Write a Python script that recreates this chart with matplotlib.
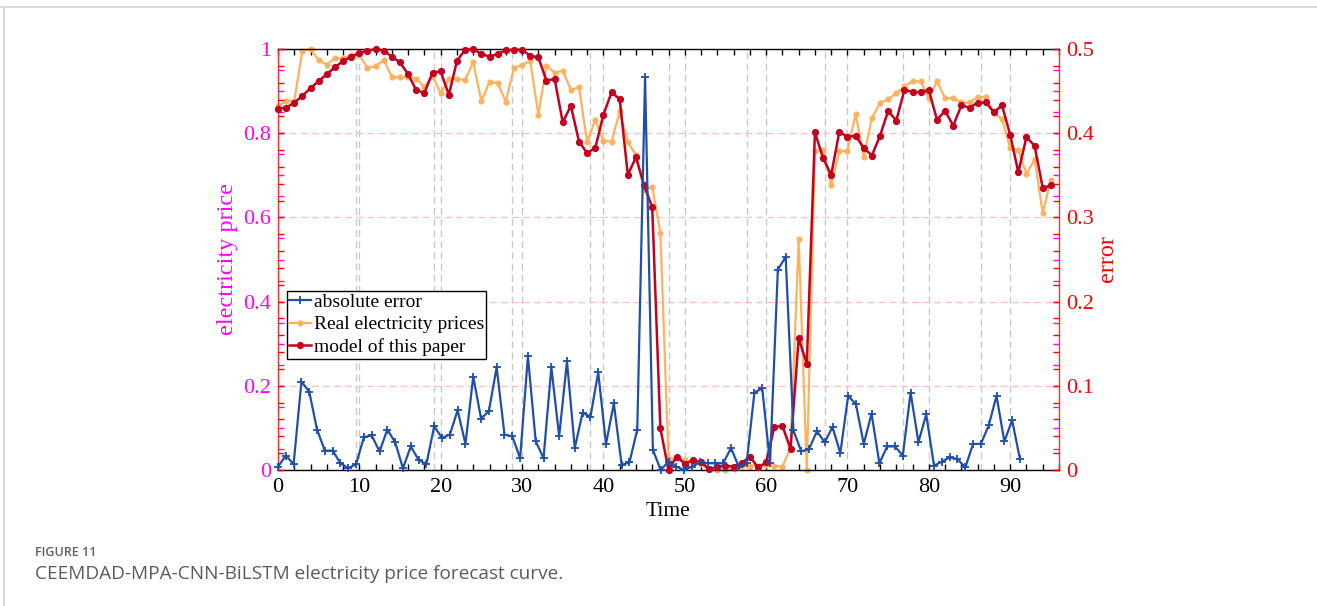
import numpy as np
import matplotlib
matplotlib.use("Agg")
import matplotlib.pyplot as plt
from matplotlib.ticker import MultipleLocator, FixedLocator, FixedFormatter
from matplotlib.lines import Line2D

# ---- data -------------------------------------------------------------
time_idx = np.arange(96)

real_price = [
    0.864, 0.877, 0.877, 0.996, 1.000, 0.973, 0.963, 0.978, 0.978, 0.985,
    0.985, 0.956, 0.959, 0.974, 0.933, 0.933, 0.933, 0.929, 0.910, 0.936,
    0.895, 0.929, 0.929, 0.927, 0.968, 0.876, 0.922, 0.919, 0.875, 0.955,
    0.962, 0.972, 0.844, 0.960, 0.944, 0.948, 0.903, 0.909, 0.779, 0.832,
    0.782, 0.780, 0.852, 0.778, 0.749, 0.666, 0.672, 0.564, 0.026, 0.028,
    0.023, 0.016, 0.014, 0.002, 0.000, 0.000, 0.002, 0.010, 0.010, 0.010,
    0.012, 0.010, 0.008, 0.052, 0.548, 0.000, 0.757, 0.761, 0.676, 0.758,
    0.758, 0.846, 0.743, 0.836, 0.872, 0.881, 0.895, 0.911, 0.923, 0.923,
    0.883, 0.923, 0.883, 0.883, 0.873, 0.873, 0.886, 0.886, 0.848, 0.834,
    0.765, 0.761, 0.703, 0.738, 0.610, 0.689,
]

model_price = [
    0.858, 0.861, 0.872, 0.889, 0.907, 0.924, 0.940, 0.957, 0.971, 0.982,
    0.990, 0.996, 1.000, 0.996, 0.982, 0.968, 0.940, 0.902, 0.896, 0.944,
    0.947, 0.891, 0.972, 0.998, 1.000, 0.988, 0.982, 0.988, 0.997, 0.998,
    0.998, 0.984, 0.980, 0.925, 0.929, 0.826, 0.865, 0.780, 0.753, 0.765,
    0.844, 0.897, 0.881, 0.701, 0.743, 0.676, 0.624, 0.099, 0.000, 0.032,
    0.015, 0.023, 0.019, 0.002, 0.008, 0.010, 0.008, 0.016, 0.032, 0.006,
    0.018, 0.102, 0.105, 0.050, 0.313, 0.252, 0.802, 0.741, 0.701, 0.804,
    0.791, 0.794, 0.765, 0.747, 0.794, 0.853, 0.830, 0.903, 0.898, 0.898,
    0.902, 0.832, 0.853, 0.818, 0.866, 0.861, 0.872, 0.873, 0.850, 0.866,
    0.796, 0.707, 0.791, 0.770, 0.670, 0.676,
]

abs_error = [
    0.004, 0.017, 0.007, 0.105, 0.093, 0.048, 0.023, 0.023, 0.008, 0.002,
    0.007, 0.039, 0.041, 0.022, 0.048, 0.033, 0.002, 0.028, 0.012, 0.007,
    0.052, 0.038, 0.042, 0.071, 0.031, 0.111, 0.061, 0.070, 0.122, 0.042,
    0.040, 0.014, 0.135, 0.034, 0.014, 0.122, 0.040, 0.129, 0.026, 0.068,
    0.063, 0.116, 0.031, 0.079, 0.006, 0.009, 0.048, 0.467, 0.024, 0.000,
    0.010, 0.004, 0.000, 0.004, 0.009, 0.008, 0.008, 0.008, 0.026, 0.004,
    0.008, 0.092, 0.097, 0.008, 0.238, 0.253, 0.047, 0.022, 0.025, 0.046,
    0.033, 0.051, 0.020, 0.088, 0.078, 0.031, 0.067, 0.008, 0.028, 0.028,
    0.017, 0.092, 0.033, 0.066, 0.005, 0.010, 0.015, 0.013, 0.003, 0.031,
    0.031, 0.053, 0.088, 0.034, 0.059, 0.013,
]

x_ticks = [0, 10, 20, 30, 40, 50, 60, 70, 80, 90]
price_ticks = [0, 0.2, 0.4, 0.6, 0.8, 1.0]
price_tick_labels = ["0", "0.2", "0.4", "0.6", "0.8", "1"]
error_ticks = [0, 0.1, 0.2, 0.3, 0.4, 0.5]
error_tick_labels = ["0", "0.1", "0.2", "0.3", "0.4", "0.5"]

series_labels = ["absolute error", "Real electricity prices", "model of this paper"]

# ---- style ------------------------------------------------------------
BLUE = "#1f4fa8"
ORANGE = "#ffb15e"
DARKRED = "#c4001e"
MAGENTA = "#ff00ff"
RED = "#ff0000"
SPINE_RED = "#ff3030"
GRID_GRAY = "#c9c9c9"
GRID_PINK = "#ffc0cc"
SERIF = "Liberation Serif"

plt.rcParams["font.family"] = SERIF

W, H = 1317, 606
fig = plt.figure(figsize=(W / 100, H / 100), dpi=100)
fig.patch.set_facecolor("white")

left_px, right_px, top_px, bottom_px = 278, 1059, 49, 470
rect = [left_px / W, 1 - bottom_px / H, (right_px - left_px) / W, (bottom_px - top_px) / H]

# background axes carrying the time grid of the error series (0..100 scale)
ax_bg = fig.add_axes(rect)
ax_bg.set_xlim(0, 100)
ax_bg.set_ylim(0, 1)
ax_bg.xaxis.set_major_locator(MultipleLocator(10))
ax_bg.set_yticks([])
ax_bg.tick_params(axis="x", which="both", bottom=False, top=False, labelbottom=False)
ax_bg.grid(axis="x", color=GRID_GRAY, linestyle=(0, (5, 3)), linewidth=1.0)
for s in ax_bg.spines.values():
    s.set_visible(False)

# main price axes
ax = fig.add_axes(rect)
ax.patch.set_visible(False)
ax.set_axisbelow(True)
ax.plot(time_idx, real_price, color=ORANGE, lw=1.6, marker="o", ms=3.4,
        zorder=2, clip_on=False, label=series_labels[1])
ax.plot(time_idx, model_price, color=DARKRED, lw=1.8, marker="o", ms=4.2,
        zorder=3, clip_on=False, label=series_labels[2])
ax.set_xlim(0, 96)
ax.set_ylim(0, 1)
ax.xaxis.set_major_locator(FixedLocator(x_ticks))
ax.xaxis.set_minor_locator(MultipleLocator(2))
ax.yaxis.set_major_locator(FixedLocator(price_ticks))
ax.yaxis.set_major_formatter(FixedFormatter(price_tick_labels))
ax.yaxis.set_minor_locator(MultipleLocator(0.05))
ax.grid(axis="x", which="major", color=GRID_GRAY, linestyle=(0, (5, 3)), linewidth=1.0)
ax.grid(axis="y", which="major", color=GRID_PINK, linestyle=(0, (5, 3)), linewidth=1.0)
ax.tick_params(axis="x", which="both", direction="in", top=True, bottom=True,
               length=4, width=1, color="black", labelsize=16, labelcolor="black", pad=6)
ax.tick_params(axis="y", which="both", direction="in", left=True, right=True,
               length=4, width=1, color=MAGENTA, labelsize=16, labelcolor=MAGENTA, pad=5)
ax.spines["left"].set_color(SPINE_RED)
ax.spines["right"].set_color(SPINE_RED)
ax.spines["top"].set_color("black")
ax.spines["bottom"].set_color("black")
for s in ax.spines.values():
    s.set_linewidth(1.0)

# error axes
axe = fig.add_axes(rect)
axe.patch.set_visible(False)
axe.plot(time_idx, abs_error, color=BLUE, lw=1.6, marker="+", ms=5.5, mew=1.3,
         zorder=4, clip_on=False, label=series_labels[0])
axe.set_xlim(0, 100)
axe.set_ylim(0, 0.5)
axe.set_xticks([])
axe.yaxis.set_major_locator(FixedLocator(error_ticks))
axe.yaxis.set_major_formatter(FixedFormatter(error_tick_labels))
axe.yaxis.set_minor_locator(MultipleLocator(0.02))
axe.tick_params(axis="y", which="both", direction="in", left=True, right=True,
                labelleft=False, labelright=True, length=4, width=1,
                color=RED, labelsize=16, labelcolor=RED, pad=5)
for s in axe.spines.values():
    s.set_visible(False)

# axis titles
fig.text(227 / W, 1 - 259 / H, "electricity price", rotation=90, ha="center",
         va="center", color=MAGENTA, fontsize=17.5)
fig.text(1107 / W, 1 - 259 / H, "error", rotation=90, ha="center",
         va="center", color=RED, fontsize=17.5)
fig.text(668 / W, 1 - 512 / H, "Time", ha="center", va="center",
         color="black", fontsize=15.5)

# legend
handles = axe.get_lines()[:1] + ax.get_lines()[:2]
leg = axe.legend(handles, series_labels, loc="upper left",
                 bbox_to_anchor=(0.0115, 0.425), borderaxespad=0,
                 frameon=True, fancybox=False, framealpha=1, edgecolor="black",
                 fontsize=14, handlelength=1.1, handletextpad=0.15,
                 labelspacing=0.25, borderpad=0.12)
leg.get_frame().set_linewidth(1.0)
leg.set_zorder(10)

# page frame and caption
fig.add_artist(Line2D([0, 1], [1 - 7 / H, 1 - 7 / H], color="#d4d4d4", lw=1.2))
fig.add_artist(Line2D([4 / W, 4 / W], [0, 1 - 7 / H], color="#d4d4d4", lw=1.2))
fig.text(35 / W, 1 - 552 / H, "FIGURE 11", ha="left", va="center",
         fontsize=9, fontweight="semibold", color="#606060", family="Open Sans")
fig.text(35 / W, 1 - 574 / H,
         "CEEMDAD-MPA-CNN-BiLSTM electricity price forecast curve.",
         ha="left", va="center", fontsize=13.7, color="#5a5a5a", family="Open Sans")

fig.savefig("out.png", dpi=100, facecolor="white")
